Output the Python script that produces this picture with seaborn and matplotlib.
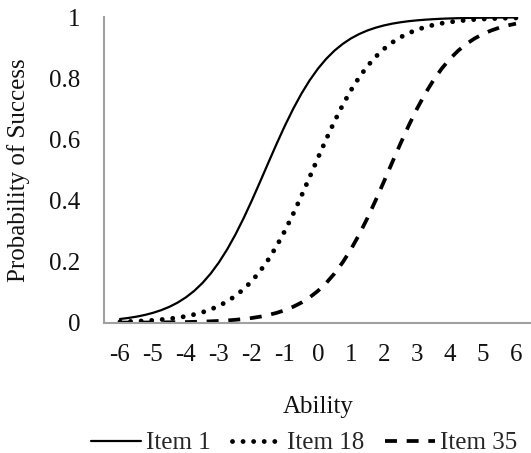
import matplotlib
matplotlib.use("Agg")
import matplotlib.pyplot as plt
import seaborn as sns
import pandas as pd

# Item characteristic curves: probability of a correct response by ability
ability = [-6.0, -5.75, -5.5, -5.25, -5.0, -4.75, -4.5, -4.25, -4.0, -3.75,
           -3.5, -3.25, -3.0, -2.75, -2.5, -2.25, -2.0, -1.75, -1.5, -1.25,
           -1.0, -0.75, -0.5, -0.25, 0.0, 0.25, 0.5, 0.75, 1.0, 1.25,
           1.5, 1.75, 2.0, 2.25, 2.5, 2.75, 3.0, 3.25, 3.5, 3.75,
           4.0, 4.25, 4.5, 4.75, 5.0, 5.25, 5.5, 5.75, 6.0]

item_1 = [0.0121, 0.0155, 0.0198, 0.0253, 0.0323, 0.0411, 0.0522, 0.0660, 0.0832, 0.1043,
          0.1301, 0.1611, 0.1978, 0.2405, 0.2891, 0.3430, 0.4013, 0.4626, 0.5250, 0.5866,
          0.6457, 0.7006, 0.7503, 0.7941, 0.8320, 0.8641, 0.8909, 0.9129, 0.9309, 0.9453,
          0.9569, 0.9661, 0.9734, 0.9792, 0.9837, 0.9873, 0.9900, 0.9922, 0.9939, 0.9953,
          0.9963, 0.9971, 0.9978, 0.9983, 0.9986, 0.9989, 0.9992, 0.9994, 0.9995]

item_18 = [0.0029, 0.0037, 0.0048, 0.0061, 0.0078, 0.0101, 0.0129, 0.0165, 0.0210, 0.0269,
           0.0342, 0.0435, 0.0552, 0.0698, 0.0879, 0.1101, 0.1370, 0.1694, 0.2075, 0.2516,
           0.3015, 0.3566, 0.4158, 0.4775, 0.5399, 0.6011, 0.6593, 0.7130, 0.7613, 0.8038,
           0.8403, 0.8710, 0.8966, 0.9176, 0.9347, 0.9483, 0.9593, 0.9680, 0.9749, 0.9804,
           0.9846, 0.9880, 0.9906, 0.9927, 0.9943, 0.9955, 0.9965, 0.9973, 0.9979]

item_35 = [0.0003, 0.0004, 0.0005, 0.0006, 0.0008, 0.0010, 0.0013, 0.0017, 0.0021, 0.0027,
           0.0035, 0.0045, 0.0058, 0.0074, 0.0095, 0.0121, 0.0155, 0.0198, 0.0253, 0.0323,
           0.0411, 0.0522, 0.0660, 0.0832, 0.1043, 0.1301, 0.1611, 0.1978, 0.2405, 0.2891,
           0.3430, 0.4013, 0.4626, 0.5250, 0.5866, 0.6457, 0.7006, 0.7503, 0.7941, 0.8320,
           0.8641, 0.8909, 0.9129, 0.9309, 0.9453, 0.9569, 0.9661, 0.9734, 0.9792]

labels = ["Item 1", "Item 18", "Item 35"]
x_ticks = [-6, -5, -4, -3, -2, -1, 0, 1, 2, 3, 4, 5, 6]
y_ticks = [0, 0.2, 0.4, 0.6, 0.8, 1]
y_tick_labels = ["0", "0.2", "0.4", "0.6", "0.8", "1"]

sns.set_style("white")
plt.rcParams["font.family"] = ["Liberation Serif", "DejaVu Serif"]
plt.rcParams["lines.scale_dashes"] = False

df = pd.DataFrame({"ability": ability, "Item 1": item_1,
                   "Item 18": item_18, "Item 35": item_35})

fig = plt.figure(figsize=(5.31, 4.53), dpi=100)
ax = fig.add_axes([103.5 / 531, 1 - 322.7 / 453, 427.5 / 531, 305.4 / 453])

styles = {
    "Item 1": dict(linestyle="-", linewidth=1.6),
    "Item 18": dict(linestyle=(0, (0.01, 7.6)), linewidth=3.5,
                    dash_capstyle="round"),
    "Item 35": dict(linestyle=(0, (8.6, 7.0)), linewidth=2.7,
                    dash_capstyle="butt"),
}
for name in labels:
    sns.lineplot(data=df, x="ability", y=name, ax=ax, color="black",
                 label=name, **styles[name])

ax.set_xlim(-6.5, 6.455)
ax.set_ylim(0, 1)
ax.set_xticks(x_ticks)
ax.set_xticklabels([str(t) for t in x_ticks])
ax.set_yticks(y_ticks)
ax.set_yticklabels(y_tick_labels)
ax.tick_params(axis="both", length=0, labelsize=18, colors="#111111")
ax.tick_params(axis="x", pad=15.5)
ax.tick_params(axis="y", pad=16.5)

for side in ["top", "right"]:
    ax.spines[side].set_visible(False)
for side in ["left", "bottom"]:
    ax.spines[side].set_color("#a0a0a0")
    ax.spines[side].set_linewidth(1.5)

ax.set_xlabel("Ability", fontsize=18, color="#111111")
ax.xaxis.set_label_coords((318 - 103.5) / 427.5, -(407 - 322.7) / 305.4)
ax.xaxis.label.set_va("center")
ax.set_ylabel("Probability of Success", fontsize=18, color="#111111")
ax.yaxis.set_label_coords((18.6 - 103.5) / 427.5, 0.5)
ax.yaxis.label.set_va("center")

handles, hlabels = ax.get_legend_handles_labels()
ax.legend(handles, hlabels, ncol=3, loc="center",
          bbox_to_anchor=(304 / 531, 1 - 443 / 453),
          bbox_transform=fig.transFigure, frameon=False, fontsize=18,
          handlelength=2.0, handletextpad=0.2, columnspacing=0.85,
          borderpad=0, borderaxespad=0)

fig.savefig("out.png", dpi=100, facecolor="white")
